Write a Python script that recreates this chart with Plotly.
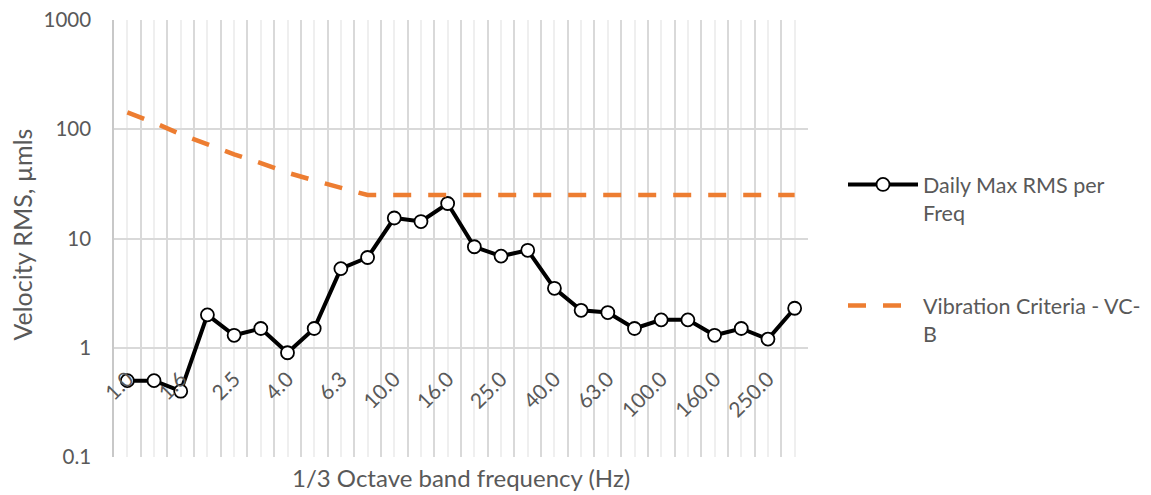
import plotly.graph_objects as go

# 1/3 octave band centre frequencies (Hz), as category labels
freq_labels = ["1.0", "1.25", "1.6", "2.0", "2.5", "3.15", "4.0", "5.0", "6.3", "8.0",
               "10.0", "12.5", "16.0", "20.0", "25.0", "31.5", "40.0", "50.0", "63.0", "80.0",
               "100.0", "125.0", "160.0", "200.0", "250.0", "315.0"]

# Daily max RMS velocity per frequency (µm/s)
daily_max = [0.5, 0.5, 0.4, 2.0, 1.3, 1.5, 0.9, 1.5, 5.3, 6.7,
             15.4, 14.3, 20.9, 8.4, 6.9, 7.8, 3.5, 2.2, 2.1, 1.5,
             1.8, 1.8, 1.3, 1.5, 1.2, 2.3]

# Vibration criterion VC-B (µm/s)
vc_b = [143, 115, 90, 72, 59, 49, 40, 34, 29, 25,
        25, 25, 25, 25, 25, 25, 25, 25, 25, 25,
        25, 25, 25, 25, 25, 25]

y_tick_vals = [0.1, 1, 10, 100, 1000]
y_tick_text = ["0.1", "1", "10", "100", "1000"]

x_idx = list(range(len(freq_labels)))
x_tick_text = [lab if i % 2 == 0 else "" for i, lab in enumerate(freq_labels)]
x_boundaries = [i - 0.5 for i in range(len(freq_labels) + 1)]

FONT = "Lato"
TXT = "#595959"

fig = go.Figure()
fig.add_trace(go.Scatter(
    x=x_idx, y=daily_max, mode="lines+markers",
    name="Daily Max RMS per<br>Freq", legendgroup="a",
    line=dict(color="black", width=4),
    marker=dict(symbol="circle", size=13, color="white", line=dict(color="black", width=1.8)),
))
fig.add_trace(go.Scatter(
    x=x_idx, y=vc_b, mode="lines",
    name="Vibration Criteria - VC-<br>B", legendgroup="b",
    line=dict(color="#ED7D31", width=4.5, dash="18px,17px"),
))

fig.update_layout(
    width=1151, height=495,
    margin=dict(l=114, r=343, t=20, b=38),
    paper_bgcolor="white", plot_bgcolor="white",
    font=dict(family=FONT, color=TXT, size=20),
    legend=dict(
        xref="container", yref="container",
        x=843 / 1151, y=1 - 164 / 495, xanchor="left", yanchor="top",
        font=dict(family=FONT, size=21.5, color=TXT),
        itemwidth=70, valign="top", tracegroupgap=62,
        traceorder="grouped",
    ),
    xaxis=dict(
        range=[-0.5, len(freq_labels) - 0.5],
        tickmode="array", tickvals=x_idx, ticktext=x_tick_text,
        tickangle=-45, ticks="", showline=False, zeroline=False,
        showgrid=True, gridcolor="#efefef", gridwidth=1.5,
        anchor="free", position=0.25, automargin=False,
        tickfont=dict(family=FONT, size=21, color=TXT),
        ticklabelstandoff=14,
        minor=dict(tickmode="array", tickvals=x_boundaries, showgrid=True,
                   gridcolor="#d9d9d9", gridwidth=1.5, ticks=""),
    ),
    yaxis=dict(
        type="log", range=[-1, 3], automargin=False,
        tickmode="array", tickvals=y_tick_vals, ticktext=y_tick_text,
        showgrid=True, gridcolor="#d9d9d9", gridwidth=1.5,
        showline=True, linecolor="#c8c8c8", linewidth=1.5,
        ticks="", zeroline=False, ticklabelstandoff=17,
        tickfont=dict(family=FONT, size=20.5, color=TXT),
    ),
    annotations=[
        dict(
            text="1/3 Octave band frequency (Hz)", xref="paper", yref="paper",
            x=0.5, y=-0.048, xanchor="center", yanchor="middle", showarrow=False,
            font=dict(family=FONT, size=24, color=TXT),
        ),
        dict(
            text="Velocity RMS, µmls", xref="paper", yref="paper",
            x=-(114 - 22) / 694, y=0.509, xanchor="center", yanchor="middle",
            textangle=-90, showarrow=False,
            font=dict(family=FONT, size=25, color=TXT),
        ),
    ],
)

fig.write_html("out.html", config={"displayModeBar": False},
               post_script="document.body.style.margin='0px';")
